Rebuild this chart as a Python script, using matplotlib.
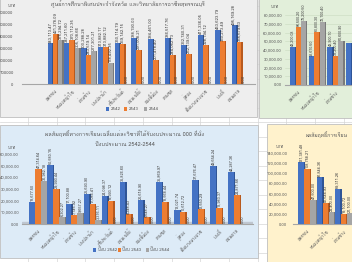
import numpy as np
import matplotlib
matplotlib.use('Agg')
import matplotlib.pyplot as plt
import matplotlib.font_manager as fm
from matplotlib.ft2font import FT2Font
from matplotlib.patches import Rectangle

# ---------------- data ----------------
categories = ['สุพรรณ', 'หนองหญ้าไซ', 'ด่านช้าง', 'บางปลาม้า', 'ศรีประจันต์', 'ดอนเจดีย์',
              'สองพี่น้อง', 'สามชุก', 'อู่ทอง', 'เดิมบางนางบวช', 'บางลี่', 'ดอนตาล']
years1 = ['2542', '2543', '2544']
years3 = ['ปีงบ 2542', 'ปีงบ 2543', 'ปีงบ 2544']

c1_2542 = [343113.47, 347211.60, 300288.28, 313882.17, 350114.79, 388190.03,
           384461.00, 386517.76, 332740.31, 411336.05, 453623.79, 495169.28]
c1_2543 = [421378.09, 370112.35, 243519.14, 313882.12, 339142.15, 291008.21,
           201418.40, 244062.73, 252139.04, 328194.12, 360213.49, 355679.63]
c1_2544 = [375294.72, 305108.66, 277301.21, 178492.35, 0, 0, 0, 0, 0, 0, 0, 0]

c2_2542 = [43200.08, 32610.50, 43900.10, 47700.00]
c2_2543 = [66500.20, 60800.30, 33200.40, 28000.00]
c2_2544 = [73200.50, 72100.40, 50600.90, 45000.00]

c3_2542 = [18677.50, 50580.15, 17100.88, 25693.90, 24098.37, 35826.60,
           20618.90, 35869.97, 12021.74, 37676.47, 49654.24, 44287.36]
c3_2543 = [47314.64, 29993.44, 7745.92, 17086.41, 19993.12, 8248.43,
           5648.27, 18568.44, 10612.72, 12550.29, 13983.37, 24871.56]
c3_2544 = [36982.18, 6302.27, 9657.27, 3376.11, 0, 0, 0, 0, 0, 0, 0, 0]

c4_2542 = [121381.48, 91844.36, 69311.26]
c4_2543 = [108758.21, 41644.93, 19100.72]
c4_2544 = [47500.00, 24400.00, 21100.00]

title1 = 'ศูนย์การศึกษาพิเศษประจำจังหวัด และวิทยาลัยการอาชีพสุพรรณบุรี'
title3a = 'ผลสัมฤทธิ์ทางการเรียนเฉลี่ยแต่ละวิชาที่ได้รับงบประมาณ 000 ที่นั่ง'
title3b = 'ปีงบประมาณ 2542-2544'
title4 = 'ผลสัมฤทธิ์การเรียน'
unit = 'บาท'

# ---------------- font ----------------
thai = None
for f in fm.fontManager.ttflist:
    try:
        if FT2Font(f.fname).get_char_index(0x0E01):
            thai = f.name
            break
    except Exception:
        continue
plt.rcParams['font.family'] = ([thai] if thai else []) + ['DejaVu Sans']

W, H = 352, 262
fig = plt.figure(figsize=(W / 100, H / 100), dpi=100)
fig.patch.set_facecolor('white')

bg = fig.add_axes([0, 0, 1, 1])
bg.set_xlim(0, W)
bg.set_ylim(H, 0)
bg.axis('off')

# spreadsheet grid
for gx in np.arange(28, W, 28.7):
    bg.plot([gx, gx], [0, H], color='#D6D6D6', lw=0.5, zorder=0)
for gy in np.arange(6, H, 14.5):
    bg.plot([0, W], [gy, gy], color='#D6D6D6', lw=0.5, zorder=0)

# chart backgrounds
bg.add_patch(Rectangle((0, -1), 257, 118, fc='#EEEEEE', ec='#BFBFBF', lw=0.6, zorder=1))
bg.add_patch(Rectangle((259, -1), 100, 119, fc='#E2EFDA', ec='#BFBFBF', lw=0.6, zorder=1))
bg.add_patch(Rectangle((0, 125), 258, 133, fc='#DDEBF7', ec='#BFBFBF', lw=0.6, zorder=1))
bg.add_patch(Rectangle((267, 124), 100, 140, fc='#FFF2CC', ec='#BFBFBF', lw=0.6, zorder=1))

COL = [('#4472C4', '#2F5597'), ('#ED7D31', '#B85A1E'), ('#A5A5A5', '#7A7A7A')]
TXT = '#595959'


def pax(x0, x1, ytop, y0):
    ax = fig.add_axes([x0 / W, 1 - y0 / H, (x1 - x0) / W, (y0 - ytop) / H])
    ax.patch.set_alpha(0)
    for s in ['top', 'right', 'left']:
        ax.spines[s].set_visible(False)
    ax.spines['bottom'].set_color('#A6A6A6')
    ax.spines['bottom'].set_linewidth(0.8)
    ax.tick_params(axis='both', length=0, labelcolor=TXT)
    return ax


def draw(ax, series, ymax, w=0.28, fs=2.8, label_max_x=None):
    n = len(series[0])
    x = np.arange(n)
    for k, (vals, (c, s)) in enumerate(zip(series, COL)):
        vals = np.asarray(vals, float)
        xs = x + (k - 1) * w * 1.08
        ax.bar(xs + w / 2 + w * 0.14, vals, w * 0.28, color=s, lw=0, zorder=2 + k * 0.1)
        ax.bar(xs, vals, w, color=c, lw=0, zorder=3 + k * 0.1)
        for xi, v in zip(xs, vals):
            if label_max_x is not None and xi > label_max_x:
                continue
            ax.text(xi, v + ymax * 0.012, f'{v:,.2f}', rotation=90, ha='center', va='bottom',
                    fontsize=fs, color='#404040', zorder=6, clip_on=False)
    ax.set_xticks(x)
    ax.set_xticklabels(categories[:n], rotation=45, ha='right', rotation_mode='anchor',
                       fontsize=3.1)
    ax.tick_params(axis='x', pad=3)
    ax.set_ylim(0, ymax)


# ---------- chart 1 ----------
ax1 = pax(22, 255, 13, 84)
draw(ax1, [c1_2542, c1_2543, c1_2544], 600000, fs=3.0)
ax1.set_xlim(-1.98, 11.96)
ax1.set_yticks(np.arange(0, 600001, 100000))
ax1.set_yticklabels([f'{int(v)}' for v in np.arange(0, 600001, 100000)], fontsize=3.2)
ax1.tick_params(axis='y', pad=6)
bg.text(128, 4.5, title1, ha='center', va='center', fontsize=3.9, color=TXT, zorder=5)
bg.text(12, 6, unit, ha='center', va='center', fontsize=3.2, color=TXT, zorder=5)
for i, (lab, (c, s)) in enumerate(zip(years1, COL)):
    lx = [106, 124, 144][i]
    bg.add_patch(Rectangle((lx, 107.3), 3.2, 3.2, fc=c, ec='none', zorder=5))
    bg.text(lx + 4.5, 109, lab, ha='left', va='center', fontsize=3.2, color=TXT, zorder=5)

# ---------- chart 2 ----------
ax2 = pax(285, 352, 15, 85)
draw(ax2, [c2_2542, c2_2543, c2_2544], 80000, w=0.27, fs=2.7, label_max_x=2.6)
ax2.set_xlim(-0.7, 2.89)
t2 = np.arange(0, 80001, 10000)
ax2.set_yticks(t2)
ax2.set_yticklabels([f'{v:,.2f}' for v in t2], fontsize=3.0)
ax2.tick_params(axis='y', pad=2)
for v in t2[1:]:
    ax2.axhline(v, color='#CADBC0', lw=0.4, zorder=0)
bg.text(275, 7, unit, ha='center', va='center', fontsize=3.2, color=TXT, zorder=5)

# ---------- chart 3 ----------
ax3 = pax(22, 253, 154, 224)
draw(ax3, [c3_2542, c3_2543, c3_2544], 60000, w=0.3)
ax3.set_xlim(-0.88, 11.88)
t3 = np.arange(0, 60001, 10000)
ax3.set_yticks(t3)
ax3.set_yticklabels([f'{v:,.2f}' for v in t3], fontsize=3.0)
ax3.tick_params(axis='y', pad=2)
ax3.axhspan(0, 1300, color='#BFC7D1', zorder=1)
bg.text(125, 134, title3a, ha='center', va='center', fontsize=4.0, color=TXT, zorder=5)
bg.text(125, 145, title3b, ha='center', va='center', fontsize=4.0, color=TXT, zorder=5)
bg.text(12, 148, unit, ha='center', va='center', fontsize=3.2, color=TXT, zorder=5)
for i, (lab, (c, s)) in enumerate(zip(years3, COL)):
    lx = [93, 118, 146][i]
    bg.add_patch(Rectangle((lx, 248.3), 3.2, 3.2, fc=c, ec='none', zorder=5))
    bg.text(lx + 4.5, 250, lab, ha='left', va='center', fontsize=3.2, color=TXT, zorder=5)

# ---------- chart 4 ----------
ax4 = pax(293, 352, 153, 224)
draw(ax4, [c4_2542, c4_2543, c4_2544], 140000, w=0.3, fs=2.8)
ax4.set_xlim(-0.77, 2.46)
t4 = np.arange(0, 140001, 20000)
ax4.set_yticks(t4)
ax4.set_yticklabels([f'{v:,.2f}' for v in t4], fontsize=3.0)
ax4.tick_params(axis='y', pad=4)
bg.text(306, 135, title4, ha='left', va='center', fontsize=3.7, color=TXT, zorder=5)
bg.text(280, 147, unit, ha='center', va='center', fontsize=3.2, color=TXT, zorder=5)

fig.savefig('out.png', dpi=100)
